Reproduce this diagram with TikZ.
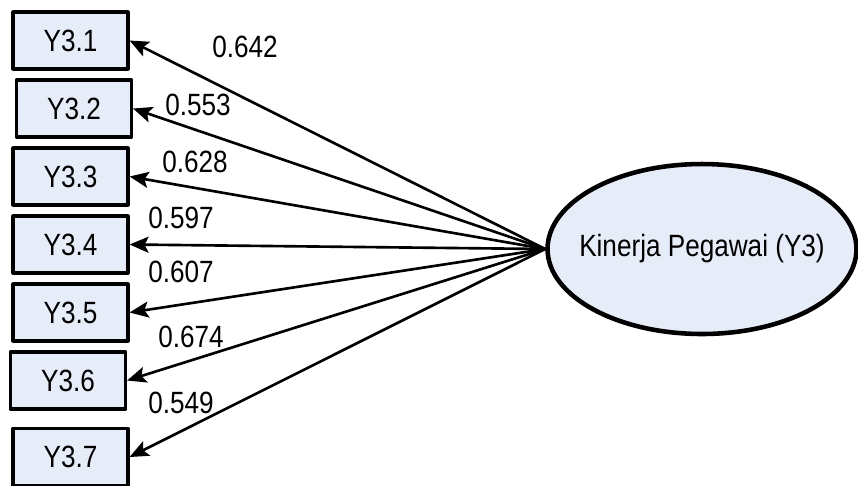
\documentclass[tikz,border=0pt]{standalone}
\usepackage{fontspec}
\setmainfont[FakeStretch=0.85]{Liberation Sans}
\usetikzlibrary{arrows.meta,shapes.geometric}
\definecolor{boxfill}{RGB}{230,236,248}
\tikzset{
	indbox/.style={draw, line width=1.8pt, fill=boxfill, minimum width=2.3cm, minimum height=1.14cm, inner sep=0pt},
	latent/.style={ellipse, draw, line width=2.6pt, fill=boxfill, minimum width=6.18cm, minimum height=3.4cm, inner sep=0pt},
	load/.style={-{Stealth[length=0.38cm,width=0.32cm,inset=0.08cm]}, line width=1.5pt},
	coef/.style={inner sep=0pt}
}
\begin{document}
\begin{tikzpicture}[line join = round,x=0.02cm,y=-0.02cm,font=\fontsize{17.5}{20}\selectfont]
	\useasboundingbox (0,0) rectangle (858,485);
	
	\node[latent, label={center:Kinerja Pegawai (Y3)}] (kp) at (702,249) {};
	
	\foreach \i/\x/\y in {1/70.5/40.5, 2/74/108.5, 3/70.5/176.5, 4/70.5/244.5, 5/70.5/312.5, 6/68/380.5, 7/70.5/457} {
		\node[indbox] (y3\i) at (\x,\y) {Y3.\i};
	}
	
	\foreach \i in {1,...,7} {
		\draw[load] (kp.west) -- (y3\i.east);
	}
	
	\foreach \i/\v/\x/\y in {1/0.642/245/47, 2/0.553/198/105, 3/0.628/195/162, 4/0.597/181/218, 5/0.607/181/272, 6/0.674/191/337, 7/0.549/181/403} {
		\node[coef] (c3\i) at (\x,\y) {\v};
	}
	
\end{tikzpicture}
\end{document}
